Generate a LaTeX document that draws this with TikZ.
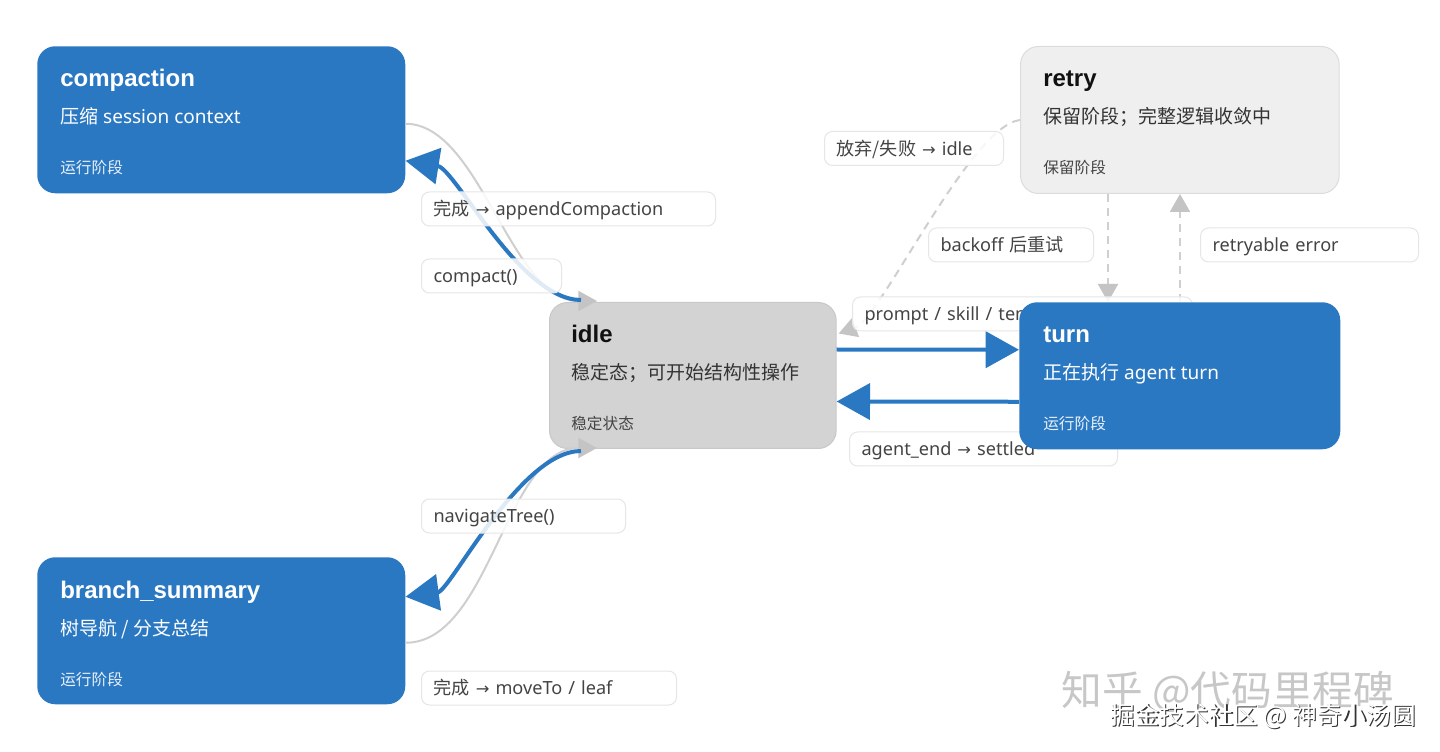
\documentclass[tikz,border=0pt]{standalone}
\usepackage{fontspec}
\setmainfont{Noto Sans}
\newfontfamily\cjk{Noto Sans CJK SC}
\newfontfamily\ttlfont{Liberation Sans}
\newfontfamily\symfont{DejaVu Sans}[Scale=0.9]
\newcommand\zh[1]{{\cjk #1}}
\newcommand\rarr{{\symfont →}}
\usetikzlibrary{arrows.meta,calc}
\definecolor{nblue}{HTML}{2B78C2}
\definecolor{idlegray}{HTML}{D3D3D3}
\definecolor{idleborder}{HTML}{C8C8C8}
\definecolor{retrygray}{HTML}{EFEFEF}
\definecolor{retryborder}{HTML}{DCDCDC}
\definecolor{lblborder}{HTML}{E6E6E6}
\definecolor{lbltext}{HTML}{444444}
\definecolor{gline}{HTML}{CFCFCF}
\definecolor{garrow}{HTML}{C4C4C4}
\definecolor{darktext}{HTML}{111111}
\definecolor{midtext}{HTML}{333333}
\definecolor{foottext}{HTML}{444444}
\definecolor{footwhite}{HTML}{E8F0FA}
\pgfdeclarelayer{conn}
\pgfdeclarelayer{lbls}
\pgfdeclarelayer{top}
\pgfsetlayers{main,conn,lbls,top}
\begin{document}
\begin{tikzpicture}[x=0.75pt,y=-0.75pt,
  state/.style={rounded corners=13.5pt, inner sep=0pt, anchor=north west, minimum height=110.25pt},
  bluestate/.style={state, fill=nblue},
  ttl/.style={anchor=base west, inner sep=0pt, font=\ttlfont\fontsize{18}{20}\selectfont\bfseries},
  sub/.style={anchor=base west, inner sep=0pt, font=\fontsize{14.25}{17}\selectfont},
  foot/.style={anchor=base west, inner sep=0pt, font=\fontsize{11.75}{14}\selectfont},
  lbl/.style={anchor=west, draw=lblborder, line width=0.75pt, fill=white, fill opacity=0.85, text opacity=1,
    rounded corners=6pt, inner xsep=9pt, inner ysep=0pt, minimum height=25.5pt,
    text height=12pt, text depth=2pt, align=left, text width=#1, text=lbltext,
    font=\fontsize{13.6}{15}\selectfont},
  bluearr/.style={draw=nblue, line width=3pt, -{Triangle[length=25pt,width=27pt,color=nblue]}},
  grayarr/.style={draw=gline, line width=1.5pt, -{Triangle[length=14pt,width=15pt,color=garrow]}},
  dasharr/.style={draw=gline, line width=1.5pt, dash pattern=on 6pt off 4.5pt,
    -{Triangle[length=13.5pt,width=15pt,color=garrow]}},
]
\useasboundingbox (0,0) rectangle (1440,752);
\fill[white] (0,0) rectangle (1440,752);

% states
\node[bluestate, minimum width=276pt] (compaction) at (37,46) {};
\node[ttl, text=white] (compT) at ($(compaction.north west)+(23,41)$) {compaction};
\node[sub, text=white] (compS) at ($(compaction.north west)+(23,78)$) {\zh{压缩} session context};
\node[foot, text=footwhite] (compF) at ($(compaction.north west)+(23,128)$) {\zh{运行阶段}};

\node[bluestate, minimum width=276pt] (branch) at (37,557) {};
\node[ttl, text=white] (branchT) at ($(branch.north west)+(23,41)$) {branch\_summary};
\node[sub, text=white] (branchS) at ($(branch.north west)+(23,78)$) {\zh{树导航 / 分支总结}};
\node[foot, text=footwhite] (branchF) at ($(branch.north west)+(23,128)$) {\zh{运行阶段}};

\node[state, fill=idlegray, draw=idleborder, line width=0.75pt, minimum width=215pt, minimum height=109.5pt] (idle) at (549,302) {};
\node[ttl, text=darktext] (idleT) at ($(idle.north west)+(22,41)$) {idle};
\node[sub, text=midtext] (idleS) at ($(idle.north west)+(22,78)$) {\zh{稳定态；可开始结构性操作}};
\node[foot, text=foottext] (idleF) at ($(idle.north west)+(22,128)$) {\zh{稳定状态}};

\node[state, fill=retrygray, draw=retryborder, line width=0.75pt, minimum width=239pt] (retry) at (1020,46) {};
\node[ttl, text=darktext] (retryT) at ($(retry.north west)+(23,41)$) {retry};
\node[sub, text=midtext] (retryS) at ($(retry.north west)+(23,78)$) {\zh{保留阶段；完整逻辑收敛中}};
\node[foot, text=foottext] (retryF) at ($(retry.north west)+(23,128)$) {\zh{保留阶段}};

\begin{pgfonlayer}{top}
\node[bluestate, minimum width=240.75pt] (turn) at (1019,302) {};
\node[ttl, text=white] (turnT) at ($(turn.north west)+(24,41)$) {turn};
\node[sub, text=white] (turnS) at ($(turn.north west)+(24,78)$) {\zh{正在执行} agent turn};
\node[foot, text=footwhite] (turnF) at ($(turn.north west)+(24,128)$) {\zh{运行阶段}};
\end{pgfonlayer}

% connectors
\begin{pgfonlayer}{conn}
\draw[grayarr] ($(compaction.east)+(0,4)$) .. controls +(75,0) and +(-87,0) .. ($(idle.north west)+(48,-1)$);
\draw[bluearr] ($(idle.north west)+(32,-2)$) .. controls +(-61,0) and +(50,8) .. ($(compaction.east)+(0,41)$);
\draw[grayarr] ($(branch.east)+(0,12)$) .. controls +(85,0) and +(-92,0) .. ($(idle.south west)+(48,-1)$);
\draw[bluearr] ($(idle.south west)+(32,2)$) .. controls +(-61,0) and +(45,-6) .. ($(branch.east)+(0,-34)$);
\draw[bluearr] ($(idle.east)+(0,-26)$) -- ($(turn.west)+(0,-26)$);
\draw[bluearr] ($(turn.west)+(0,26)$) -- ($(idle.east)+(0,26)$);
\draw[dasharr] ($(retry.south west)+(88,0)$) -- ($(turn.north west)+(89,0)$);
\draw[dasharr] ($(turn.north west)+(161,0)$) -- ($(retry.south west)+(160,0)$);
\draw[dasharr] (retry.west) .. controls +(-50,6) and +(42,-15) .. ($(idle.east)+(2,-42)$);
\end{pgfonlayer}

% labels
\begin{pgfonlayer}{lbls}
\node[lbl=202.5pt] (lAppend) at (421,209) {\zh{完成} \rarr{} appendCompaction};
\node[lbl=87pt] (lCompact) at (421,276) {compact()};
\node[lbl=116.25pt] (lGiveup) at (824,148.5) {\zh{放弃/失败} \rarr{} idle};
\node[lbl=105.75pt] (lBackoff) at (928,245) {backoff \zh{后重试}};
\node[lbl=145.5pt] (lRetryable) at (1200,245) {retryable error};
\node[lbl=237pt] (lPrompt) at (852,314) {prompt / skill / template};
\node[lbl=183pt] (lEnd) at (849,449) {agent\_end \rarr{} settled};
\node[lbl=135pt] (lNav) at (421,516) {navigateTree()};
\node[lbl=173.25pt] (lMove) at (421,688) {\zh{完成} \rarr{} moveTo / leaf};
\end{pgfonlayer}

% watermarks
\begin{pgfonlayer}{top}
\node[font=\cjk\fontsize{30.5}{32}\selectfont, text=black!22, inner sep=0pt] (wm1) at (1228,692) {知乎 @代码里程碑};
\node[font=\cjk\fontsize{18.5}{20}\selectfont, text=black!80, inner sep=0pt] (wm2s) at (1264.2,717.2) {掘金技术社区 @ 神奇小汤圆};
\node[font=\cjk\fontsize{18.5}{20}\selectfont, text=white, inner sep=0pt] (wm2) at (1263,716) {掘金技术社区 @ 神奇小汤圆};
\end{pgfonlayer}
\end{tikzpicture}
\end{document}
